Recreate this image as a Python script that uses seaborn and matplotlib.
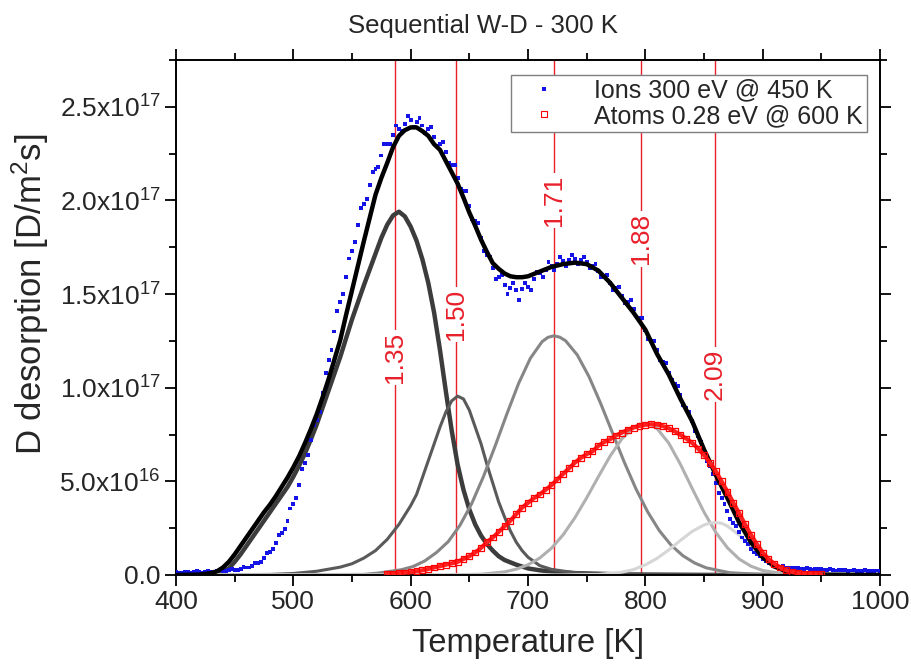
import numpy as np
import pandas as pd
import matplotlib
matplotlib.use("Agg")
import matplotlib.pyplot as plt
from matplotlib.ticker import MultipleLocator, FixedLocator, FixedFormatter
from matplotlib.lines import Line2D
import seaborn as sns

# ---------------- data (desorption flux in units of 1e17 D/m^2s) ----------------
ions_T = list(range(400, 1001, 5))
ions_v = [0.015, 0.012, 0.016, 0.014, 0.017, 0.015, 0.018, 0.020, 0.022, 0.025,
          0.028, 0.032, 0.040, 0.050, 0.065, 0.090, 0.125, 0.170, 0.225, 0.290,
          0.380, 0.480, 0.600, 0.720, 0.830, 0.970, 1.150, 1.300, 1.460, 1.590,
          1.730, 1.870, 1.980, 2.080, 2.170, 2.240, 2.300, 2.350, 2.380, 2.410,
          2.430, 2.420, 2.400, 2.380, 2.340, 2.300, 2.260, 2.190, 2.120, 2.050,
          1.970, 1.890, 1.800, 1.710, 1.640, 1.590, 1.550, 1.530, 1.520, 1.525,
          1.540, 1.580, 1.610, 1.630, 1.650, 1.660, 1.675, 1.680, 1.685, 1.680,
          1.670, 1.650, 1.625, 1.595, 1.560, 1.530, 1.490, 1.460, 1.420, 1.370,
          1.310, 1.250, 1.200, 1.140, 1.080, 1.020, 0.960, 0.890, 0.820, 0.740,
          0.660, 0.580, 0.490, 0.410, 0.340, 0.280, 0.230, 0.180, 0.140, 0.110,
          0.085, 0.065, 0.052, 0.045, 0.040, 0.037, 0.035, 0.033, 0.032, 0.030,
          0.030, 0.028, 0.027, 0.026, 0.025, 0.024, 0.023, 0.022, 0.022, 0.021,
          0.020]

# second reading of the ion cloud, between the points above
ions_T2 = [t + 2.5 for t in range(400, 1000, 5)]
ions_v2 = [0.010, 0.018, 0.012, 0.020, 0.013, 0.021, 0.016, 0.024, 0.019, 0.030,
           0.026, 0.042, 0.040, 0.066, 0.068, 0.118, 0.140, 0.215, 0.245, 0.355,
           0.410, 0.565, 0.640, 0.800, 0.870, 1.080, 1.200, 1.410, 1.500, 1.690,
           1.780, 1.960, 2.010, 2.150, 2.180, 2.300, 2.300, 2.400, 2.370, 2.450,
           2.390, 2.440, 2.360, 2.390, 2.290, 2.310, 2.200, 2.190, 2.060, 2.050,
           1.900, 1.880, 1.730, 1.700, 1.580, 1.600, 1.500, 1.560, 1.470, 1.560,
           1.520, 1.620, 1.590, 1.670, 1.630, 1.700, 1.650, 1.710, 1.660, 1.700,
           1.640, 1.660, 1.590, 1.600, 1.520, 1.540, 1.450, 1.470, 1.380, 1.370,
           1.260, 1.250, 1.150, 1.130, 1.040, 1.010, 0.910, 0.870, 0.770, 0.710,
           0.610, 0.540, 0.440, 0.380, 0.300, 0.260, 0.200, 0.165, 0.120, 0.100,
           0.072, 0.062, 0.045, 0.046, 0.035, 0.040, 0.030, 0.036, 0.028, 0.034,
           0.026, 0.031, 0.024, 0.029, 0.022, 0.027, 0.020, 0.025, 0.019, 0.024]

atoms_T = list(range(580, 951, 5))
atoms_v = [0.006, 0.008, 0.010, 0.012, 0.015, 0.020, 0.025, 0.032, 0.040, 0.047,
           0.055, 0.062, 0.070, 0.085, 0.100, 0.120, 0.145, 0.175, 0.200, 0.230,
           0.260, 0.290, 0.325, 0.360, 0.385, 0.410, 0.430, 0.455, 0.480, 0.510,
           0.540, 0.570, 0.600, 0.625, 0.645, 0.660, 0.690, 0.710, 0.725, 0.745,
           0.760, 0.775, 0.787, 0.796, 0.802, 0.805, 0.803, 0.795, 0.783, 0.767,
           0.748, 0.728, 0.705, 0.675, 0.640, 0.600, 0.555, 0.500, 0.445, 0.385,
           0.330, 0.270, 0.215, 0.165, 0.120, 0.085, 0.060, 0.040, 0.025, 0.016,
           0.010, 0.007, 0.005, 0.004, 0.003]

fit_T = [400, 420, 430, 435, 440, 445, 450, 455, 460, 465, 470, 475, 480, 485,
         490, 495, 500, 505, 510, 515, 520, 525, 530, 535, 540, 545, 550, 555,
         560, 565, 570, 575, 580, 585, 590, 595, 600, 605, 610, 615, 620, 625,
         630, 635, 640, 645, 650, 655, 660, 665, 670, 675, 680, 685, 690, 695,
         700, 710, 720, 730, 740, 750, 760, 770, 780, 790, 800, 810, 820, 830,
         840, 850, 860, 870, 880, 890, 900, 910, 920, 930, 940, 960, 1000]
fit_v = [0.0, 0.002, 0.010, 0.020, 0.040, 0.070, 0.110, 0.155, 0.200, 0.245,
         0.290, 0.335, 0.375, 0.420, 0.470, 0.520, 0.575, 0.635, 0.705, 0.780,
         0.860, 0.950, 1.045, 1.150, 1.255, 1.390, 1.520, 1.650, 1.780, 1.905,
         2.030, 2.120, 2.200, 2.285, 2.345, 2.375, 2.390, 2.390, 2.370, 2.345,
         2.300, 2.270, 2.210, 2.150, 2.090, 2.015, 1.935, 1.865, 1.790, 1.725,
         1.665, 1.635, 1.610, 1.595, 1.590, 1.590, 1.595, 1.620, 1.645, 1.660,
         1.668, 1.660, 1.625, 1.560, 1.480, 1.400, 1.310, 1.180, 1.070, 0.940,
         0.820, 0.670, 0.535, 0.410, 0.280, 0.175, 0.095, 0.045, 0.020, 0.008,
         0.003, 0.001, 0.0]

p1_T = [400, 420, 430, 435, 440, 445, 450, 455, 460, 465, 470, 475, 480, 485,
        490, 495, 500, 505, 510, 515, 520, 525, 530, 535, 540, 545, 550, 555,
        560, 565, 570, 575, 580, 585, 590, 595, 600, 605, 610, 615, 620, 625,
        630, 635, 640, 645, 650, 655, 660, 665, 670, 675, 680, 690, 700, 710,
        720, 740, 780, 850, 1000]
p1_v = [0.0, 0.001, 0.005, 0.010, 0.018, 0.035, 0.070, 0.110, 0.155, 0.200,
        0.245, 0.290, 0.335, 0.380, 0.425, 0.470, 0.525, 0.585, 0.650, 0.725,
        0.805, 0.895, 0.985, 1.075, 1.165, 1.265, 1.365, 1.455, 1.545, 1.630,
        1.715, 1.800, 1.870, 1.920, 1.940, 1.915, 1.860, 1.785, 1.685, 1.560,
        1.400, 1.200, 0.980, 0.770, 0.590, 0.455, 0.350, 0.270, 0.210, 0.165,
        0.130, 0.100, 0.080, 0.055, 0.035, 0.025, 0.018, 0.010, 0.003, 0.0005,
        0.0]

p2_T = [400, 480, 500, 520, 540, 550, 560, 570, 580, 590, 600, 605, 610, 615,
        620, 625, 630, 635, 640, 645, 650, 655, 660, 665, 670, 675, 680, 685,
        690, 695, 700, 710, 720, 740, 760, 800, 1000]
p2_v = [0.0, 0.003, 0.008, 0.020, 0.042, 0.060, 0.090, 0.130, 0.190, 0.270,
        0.370, 0.430, 0.520, 0.610, 0.700, 0.790, 0.870, 0.930, 0.955, 0.940,
        0.880, 0.790, 0.700, 0.590, 0.490, 0.390, 0.310, 0.235, 0.175, 0.130,
        0.095, 0.050, 0.030, 0.012, 0.005, 0.001, 0.0]

p3_T = [400, 560, 572, 592, 602, 612, 622, 632, 642, 652, 662, 672, 682, 692,
        702, 712, 717, 722, 727, 732, 742, 752, 762, 772, 782, 792, 802, 812,
        822, 832, 842, 852, 872, 902, 1000]
p3_v = [0.0, 0.003, 0.010, 0.028, 0.045, 0.075, 0.120, 0.178, 0.265, 0.381,
        0.525, 0.689, 0.860, 1.023, 1.157, 1.246, 1.269, 1.277, 1.270, 1.251,
        1.175, 1.059, 0.915, 0.759, 0.603, 0.460, 0.337, 0.236, 0.159, 0.103,
        0.064, 0.038, 0.012, 0.0015, 0.0]

p4_T = [400, 630, 660, 680, 690, 700, 710, 720, 730, 740, 750, 760, 770, 780,
        790, 795, 800, 805, 810, 820, 830, 840, 850, 860, 870, 880, 890, 900,
        920, 950, 1000]
p4_v = [0.0, 0.0004, 0.004, 0.0166, 0.031, 0.0545, 0.0905, 0.143, 0.215, 0.306,
        0.412, 0.525, 0.635, 0.727, 0.788, 0.805, 0.810, 0.803, 0.782, 0.704,
        0.590, 0.461, 0.336, 0.228, 0.145, 0.085, 0.047, 0.024, 0.005, 0.0004,
        0.0]

p5_T = [400, 730, 760, 780, 790, 800, 810, 820, 830, 840, 850, 855, 860, 865,
        870, 880, 890, 900, 910, 920, 930, 950, 1000]
p5_v = [0.0, 0.0004, 0.003, 0.015, 0.029, 0.054, 0.089, 0.134, 0.185, 0.233,
        0.267, 0.277, 0.280, 0.276, 0.261, 0.213, 0.151, 0.0935, 0.0504, 0.0237,
        0.0097, 0.0011, 0.0]

# desorption energy markers (eV) and their temperatures
energy_T = [587, 639, 722, 796, 859]
energy_labels = ["1.35", "1.50", "1.71", "1.88", "2.09"]
energy_label_y = [1.16, 1.39, 2.00, 1.795, 1.07]

legend_labels = ["Ions 300 eV @ 450 K", "Atoms 0.28 eV @ 600 K"]

x_ticks = [400, 500, 600, 700, 800, 900, 1000]
y_ticks = [0.0, 0.5, 1.0, 1.5, 2.0, 2.5]
y_ticklabels = ["0.0", r"$\mathregular{5.0x10^{16}}$", r"$\mathregular{1.0x10^{17}}$",
                r"$\mathregular{1.5x10^{17}}$", r"$\mathregular{2.0x10^{17}}$",
                r"$\mathregular{2.5x10^{17}}$"]

SCALE = 1e17

# ---------------- style ----------------
sns.set_theme(style="ticks")
plt.rcParams["font.family"] = ["Liberation Sans", "DejaVu Sans"]
plt.rcParams["mathtext.fontset"] = "custom"
plt.rcParams["mathtext.rm"] = "Liberation Sans"
plt.rcParams["mathtext.it"] = "Liberation Sans:italic"
plt.rcParams["mathtext.bf"] = "Liberation Sans:bold"

fig = plt.figure(figsize=(9.12, 6.71), dpi=100)
ax = fig.add_axes([0.1930, 0.1431, 0.7719, 0.7675])

# vertical energy lines
for t in energy_T:
    ax.axvline(t, color="#e8202a", lw=1.0, zorder=1)

# fit components
peak_sets = [(p1_T, p1_v, "#3c3c3c", 3.2),
             (p2_T, p2_v, "#5a5a5a", 2.2),
             (p3_T, p3_v, "#868686", 2.2),
             (p4_T, p4_v, "#b0b0b0", 2.2),
             (p5_T, p5_v, "#d6d6d6", 2.2)]
for T, v, c, lw in peak_sets:
    d = pd.DataFrame({"T": T, "v": np.array(v) * SCALE})
    sns.lineplot(data=d, x="T", y="v", color=c, lw=lw, estimator=None,
                 sort=False, ax=ax, zorder=2)

# ion data
df_ions = pd.DataFrame({"T": ions_T + ions_T2,
                        "v": np.array(ions_v + ions_v2) * SCALE})
sns.scatterplot(data=df_ions, x="T", y="v", marker="s", s=8, color="#1414e6",
                edgecolor="none", linewidth=0, ax=ax, zorder=3, legend=False)

# total fit
df_fit = pd.DataFrame({"T": fit_T, "v": np.array(fit_v) * SCALE})
sns.lineplot(data=df_fit, x="T", y="v", color="black", lw=3.2, estimator=None,
             sort=False, ax=ax, zorder=4)

# atom data
df_atoms = pd.DataFrame({"T": atoms_T, "v": np.array(atoms_v) * SCALE})
sns.lineplot(data=df_atoms, x="T", y="v", color="#ff2020", lw=3.0, estimator=None,
             sort=False, ax=ax, zorder=5)
sns.scatterplot(data=df_atoms, x="T", y="v", marker="s", s=18, facecolor="none",
                edgecolor="#ff0000", linewidth=0.9, ax=ax, zorder=5, legend=False)

# energy labels
for t, lab, yy in zip(energy_T, energy_labels, energy_label_y):
    ax.text(t, yy * SCALE, lab, rotation=90, ha="center", va="center",
            color="#e8202a", fontsize=19, zorder=6,
            bbox=dict(facecolor="white", edgecolor="none", pad=1.5))

# axes
ax.set_xlim(400, 1000)
ax.set_ylim(0, 2.75 * SCALE)
ax.xaxis.set_major_locator(FixedLocator(x_ticks))
ax.xaxis.set_minor_locator(MultipleLocator(50))
ax.yaxis.set_major_locator(FixedLocator([y * SCALE for y in y_ticks]))
ax.yaxis.set_major_formatter(FixedFormatter(y_ticklabels))
ax.yaxis.set_minor_locator(MultipleLocator(0.25 * SCALE))
ax.tick_params(which="both", direction="out", top=True, right=True,
               labeltop=False, labelright=False, width=1.3, color="black")
ax.tick_params(which="major", length=8, labelsize=19, pad=3)
ax.tick_params(which="minor", length=5)
for s in ax.spines.values():
    s.set_linewidth(1.4)
    s.set_color("black")

ax.set_xlabel("Temperature [K]", fontsize=23.5, labelpad=10)
ax.set_ylabel(r"D desorption [D/m$\mathregular{^2}$s]", fontsize=25)
ax.yaxis.set_label_coords(-0.177, 0.546)
ax.set_title("Sequential W-D - 300 K", fontsize=18.5, pad=19.5, x=0.436)

handles = [
    Line2D([], [], marker="s", ls="none", color="#1414e6", markersize=3.2,
           markeredgewidth=0),
    Line2D([], [], marker="s", ls="none", markerfacecolor="none",
           markeredgecolor="#ff0000", markersize=3.8, markeredgewidth=0.8),
]
leg = ax.legend(handles, legend_labels,
                loc="upper right", bbox_to_anchor=(0.9815, 0.971),
                borderaxespad=0, fontsize=18, frameon=True, fancybox=False,
                framealpha=1, edgecolor="#7f7f7f", handletextpad=0.8,
                handlelength=2.4, labelspacing=0.05, borderpad=0.15)
leg.get_frame().set_linewidth(1.0)
leg.set_zorder(10)

fig.savefig("out.png", dpi=100)
